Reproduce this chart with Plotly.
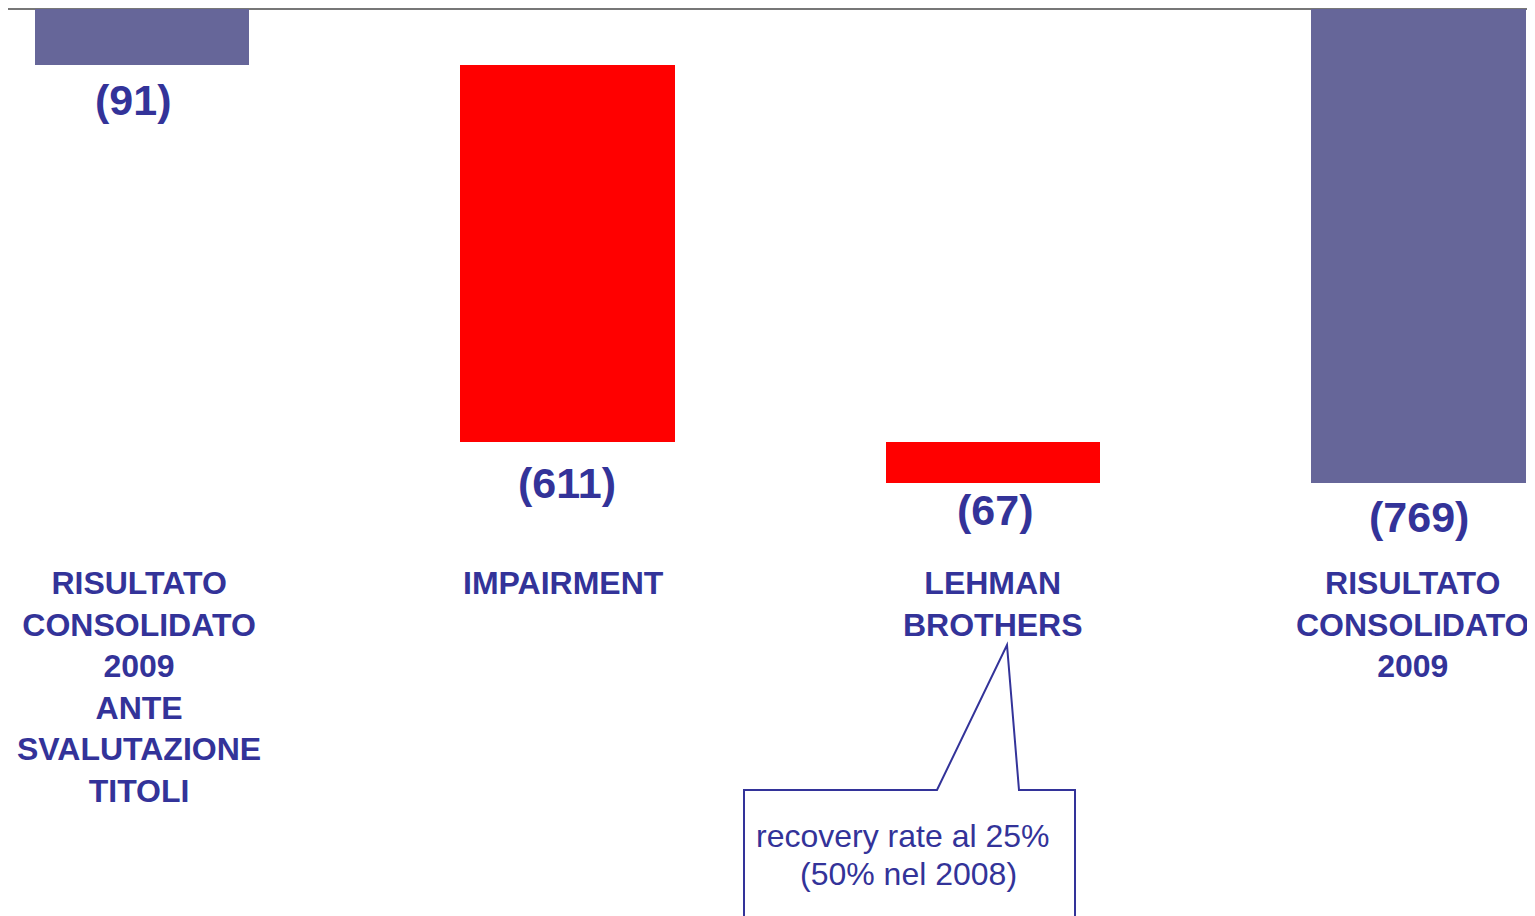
import plotly.graph_objects as go

# ---- data ----
categories = ["RISULTATO<br>CONSOLIDATO<br>2009<br>ANTE<br>SVALUTAZIONE<br>TITOLI",
              "IMPAIRMENT",
              "LEHMAN<br>BROTHERS",
              "RISULTATO<br>CONSOLIDATO<br>2009"]
values = [-91, -611, -67, -769]
value_labels = ["(91)", "(611)", "(67)", "(769)"]
kinds = ["total", "relative", "relative", "total"]
callout_lines = ["recovery rate al 25%", "(50% nel 2008)"]

# ---- styles ----
OFF = 8                      # page body margin offset
W, H = 1535 - OFF, 916 - OFF
BLUE_BAR = "#666699"
RED_BAR = "#FF0000"
TEXT = "#333399"
FONT = "Liberation Sans, Arial, sans-serif"
label_gap = [9, 15, 1, 8]     # px gap between bar end and value label
label_dx = [-9, -1, 2, 0]
cat_dx = [-3, -4, 0, -6]

# compute bases (waterfall)
bases = []
run = 0
for v, k in zip(values, kinds):
    if k == "total":
        bases.append(0)
        run = v
    else:
        bases.append(run)
        run += v
colors = [BLUE_BAR if k == "total" else RED_BAR for k in kinds]
xs = list(range(len(values)))

fig = go.Figure()
fig.add_trace(go.Bar(x=xs, y=values, base=bases, marker=dict(color=colors, line=dict(width=0)),
                     width=0.503, hoverinfo="skip"))

def px(x):
    return (x - OFF) / W

def py(y):
    return 1 - (y - OFF) / H

# value labels under bar ends
for i, (v, b, t) in enumerate(zip(values, bases, value_labels)):
    fig.add_annotation(x=i, y=b + v, xref="x", yref="y", text=f"<b>{t}</b>", showarrow=False,
                       xanchor="center", yanchor="top", yshift=-label_gap[i], xshift=label_dx[i],
                       font=dict(family=FONT, size=43, color=TEXT))

# category labels
for i, c in enumerate(categories):
    fig.add_annotation(x=i, y=py(563), xref="x", yref="paper", text=f"<b>{c}</b>", showarrow=False,
                       xanchor="center", yanchor="top", xshift=cat_dx[i],
                       font=dict(family=FONT, size=32, color=TEXT))

# callout shape
pts = [(744, 940), (744, 790), (937, 790), (1007, 645), (1019, 790), (1075, 790), (1075, 940)]
path = "M " + " L ".join(f"{px(a):.5f},{py(b):.5f}" for a, b in pts)
fig.add_shape(type="path", path=path, xref="paper", yref="paper",
              line=dict(color=TEXT, width=2), fillcolor="rgba(0,0,0,0)")
for (cx, cy), line in zip([(902.5, 836), (908.5, 874)], callout_lines):
    fig.add_annotation(x=px(cx), y=py(cy), xref="paper", yref="paper", text=line,
                       showarrow=False, xanchor="center", yanchor="middle",
                       font=dict(family=FONT, size=32, color=TEXT))

scale = 474 / 769
zero_px = 9 - OFF
fig.update_layout(
    width=W, height=H,
    margin=dict(l=0, r=0, t=0, b=0),
    paper_bgcolor="white", plot_bgcolor="white",
    showlegend=False, bargap=0,
    xaxis=dict(range=[-(142 - OFF) / 425.5, (W - (142 - OFF)) / 425.5], visible=False,
               fixedrange=True),
    yaxis=dict(range=[-(H - zero_px) / scale, zero_px / scale], showgrid=False,
               showticklabels=False, ticks="", zeroline=True, zerolinecolor="#777777",
               zerolinewidth=2, fixedrange=True),
)

fig.write_html("out.html")
